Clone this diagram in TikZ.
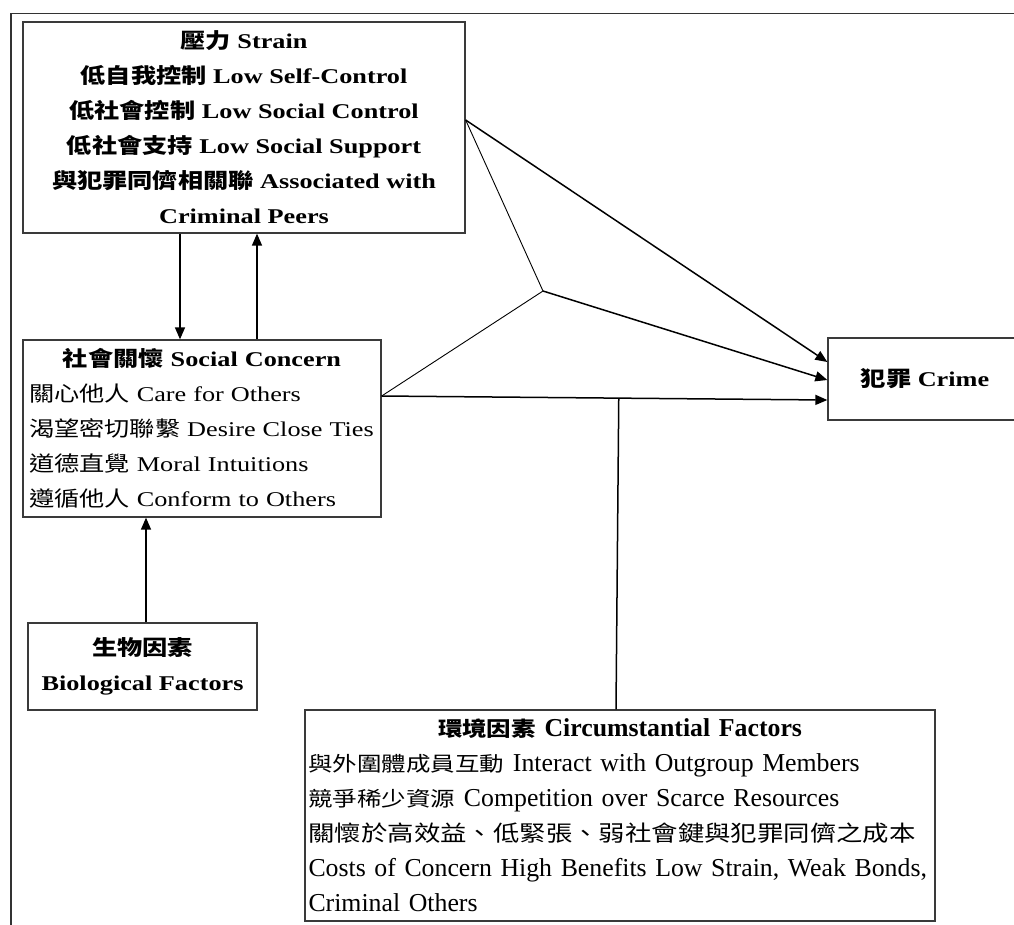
\documentclass[tikz,border=0pt]{standalone}
\usepackage{fontspec}
\setmainfont[FakeStretch=1.25]{Liberation Serif}
\newfontfamily\cjk[FakeStretch=1.2]{Noto Sans CJK TC}
\newfontfamily\circrm{Liberation Serif}
\usetikzlibrary{arrows.meta,calc}
\setlength\parindent{0pt}
\newcommand\zhsize{21}
\newcommand\zh[1]{{\fontsize{\zhsize}{35}\cjk #1}}
\definecolor{boxgray}{HTML}{3A3A3A}
\tikzset{
  box/.style={draw=boxgray, line width=1.3pt, rectangle, inner sep=0pt,
    font=\fontsize{21}{35}\selectfont},
  link/.style={line width=1.5pt, draw=black},
  thinlink/.style={line width=0.9pt, draw=black},
  arr/.style={link, -{Triangle[length=12pt,width=10pt]}},
}
\begin{document}
\begin{tikzpicture}[x=1pt, y=-1pt]
\useasboundingbox (0,0) rectangle (1014,924);
\clip (0,0) rectangle (1014,924);
\fill[white] (0,0) rectangle (1014,924);
% outer frame
\draw[line width=1.3pt, draw=black!80] (11,960) -- (11,13.5) -- (1040,13.5);

% boxes
\node[box, minimum width=442pt, minimum height=211pt, align=center,
  font=\bfseries\fontsize{21}{35}\selectfont] (strain) at (244,127.5)
  {\zh{壓力} Strain\\
   \zh{低自我控制} Low Self-Control\\
   \zh{低社會控制} Low Social Control\\
   \zh{低社會支持} Low Social Support\\
   \zh{與犯罪同儕相關聯} Associated with\\
   Criminal Peers};

\node[box, minimum width=358pt, minimum height=177pt, text width=346pt, align=left]
  (social) at (202,428.5)
  {\makebox[\hsize][c]{\bfseries\zh{社會關懷} Social Concern}\\
   \zh{關心他人} Care for Others\\
   \zh{渴望密切聯繫} Desire Close Ties\\
   \zh{道德直覺} Moral Intuitions\\
   \zh{遵循他人} Conform to Others};

\node[box, minimum width=229pt, minimum height=87pt, align=center,
  font=\bfseries\fontsize{21}{35}\selectfont] (bio) at (142.5,666.5)
  {\zh{生物因素}\\ Biological Factors};

\node[box, minimum width=194pt, minimum height=82pt,
  font=\bfseries\fontsize{21}{35}\selectfont] (crime) at (925,379)
  {\zh{犯罪} Crime};

\node[box, minimum width=630pt, minimum height=211pt, text width=623pt, align=left,
  font=\circrm\fontsize{25.8}{35}\selectfont\renewcommand\zhsize{20.4}]
  (circ) at (620,815.5)
  {\makebox[\hsize][c]{\bfseries\zh{環境因素} Circumstantial Factors}\\
   \zh{與外圍體成員互動} Interact with Outgroup Members\\
   \zh{競爭稀少資源} Competition over Scarce Resources\\
   {\renewcommand\zhsize{22}\zh{關懷於高效益、低緊張、弱社會鍵與犯罪同儕之成本}}\\
   Costs of Concern High Benefits Low Strain, Weak Bonds,\\
   Criminal Others};

% connector end points
\coordinate (j) at (543,291);
\coordinate (sR) at ([yshift=7.5pt]strain.east);
\coordinate (cR) at ([yshift=32.5pt]social.east);
\coordinate (kE) at ([yshift=-21pt]crime.west);
\coordinate (cT) at ([xshift=-4pt]circ.north);

% connectors
\draw[arr] ([xshift=-64pt]strain.south) -- ([xshift=-22pt]social.north);
\draw[arr] ([xshift=55pt]social.north) -- ([xshift=13pt]strain.south);
\draw[arr] ([xshift=3.5pt]bio.north) -- ([xshift=-56pt]social.south);

\draw[thinlink] (sR) -- (j);
\draw[thinlink] (cR) -- (j);
\draw[arr] (sR) -- ([yshift=17pt]crime.west);
\draw[arr] (j) -- ([yshift=-1pt]crime.west);
\draw[arr] (cR) -- (kE);
\draw[link] (cT) -- ($(cR)!(cT)!(kE)$);
\end{tikzpicture}
\end{document}
